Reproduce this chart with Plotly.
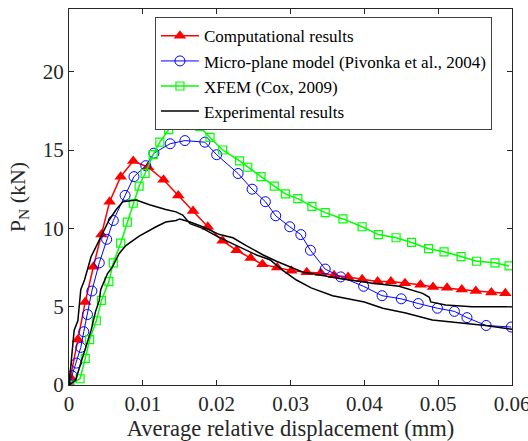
import plotly.graph_objects as go

# Computational results
comp_x = [0, .0002, .0012, .0022, .0033, .0044, .0055, .0070, .0087, .0107, .0128, .0148, .0168,
          .0188, .0208, .0227, .0246, .0262, .0282, .0301, .0322, .0341, .0359, .0378, .0397, .0418,
          .0436, .0455, .0476, .0493, .0512, .0532, .0551, .0572, .0591]
comp_y = [0, 0.5, 2.9, 5.3, 7.55, 9.6, 11.7, 13.3, 14.3, 13.9, 13.1, 12.1, 11.1, 10.1, 9.2, 8.6,
          8.1, 7.7, 7.5, 7.3, 7.2, 7.15, 7.0, 6.9, 6.75, 6.6, 6.6, 6.5, 6.4, 6.25, 6.2, 6.1, 6.0,
          5.9, 5.85]

# Micro-plane model (Pivonka et al., 2004)
micro_x = [0, .0004, .0010, .0016, .0020, .0025, .0031, .0041, .0051, .0060, .0076, .0088, .0104,
           .0115, .0137, .0157, .0184, .0200, .0229, .0248, .0266, .0280, .0299, .0314, .0327,
           .0347, .0368, .0399, .0424, .0450, .0473, .0499, .0522, .0539, .0565, .0599]
micro_y = [0, 0.6, 1.4, 2.4, 3.4, 4.5, 6.0, 7.8, 9.3, 10.5, 12.1, 13.3, 14.0, 14.8, 15.4, 15.6,
           15.5, 14.7, 13.5, 12.5, 11.7, 10.8, 10.1, 9.6, 8.6, 7.4, 6.9, 6.3, 5.7, 5.5, 5.2, 4.9,
           4.7, 4.3, 3.8, 3.7]

# XFEM (Cox, 2009)
xfem_x = [0, .0015, .0022, .0028, .0037, .0044, .0054, .0060, .0070, .0079, .0087, .0095, .0103,
          .0114, .0123, .0135, .0147, .0162, .0177, .0191, .0208, .0231, .0242, .0260, .0278,
          .0293, .0310, .0329, .0347, .0371, .0397, .0419, .0443, .0464, .0487, .0508, .0531,
          .0552, .0577, .0596]
xfem_y = [0, 0.4, 1.7, 2.9, 4.1, 5.4, 6.6, 7.8, 9.05, 10.4, 11.6, 12.7, 13.5, 14.7, 15.5, 16.3,
          17.1, 17.0, 16.5, 15.8, 15.0, 14.3, 13.9, 13.3, 12.7, 12.2, 11.9, 11.4, 11.0, 10.6,
          10.1, 9.6, 9.4, 9.1, 8.7, 8.5, 8.2, 7.9, 7.8, 7.6]

# Experimental results (two specimens)
expA_x = [0, .0003, .0005, .0007, .0012, .0014, .0016, .0021, .0027, .0030, .0041, .0054, .0064,
          .0073, .0091, .0109, .0131, .0145, .0154, .0164, .0181, .0200, .0227, .0254, .0272,
          .0290, .0308, .0321, .0328, .0357, .0400, .0425, .0456, .0492, .0524, .0564, .0600]
expA_y = [0, 1.4, 2.6, 3.5, 4.1, 5.2, 6.1, 6.7, 7.8, 8.2, 9.25, 10.5, 11.2, 11.7, 11.8, 11.5,
          11.2, 11.05, 10.85, 10.3, 10.0, 9.5, 8.9, 8.3, 8.0, 7.3, 6.7, 6.4, 6.2, 5.7, 5.3, 4.9,
          4.6, 4.15, 4.0, 3.8, 3.55]
expB_x = [0, .0009, .0016, .0023, .0030, .0036, .0041, .0043, .0048, .0052, .0059, .0068, .0077,
          .0095, .0118, .0131, .0145, .0150, .0164, .0181, .0204, .0222, .0240, .0263, .0281,
          .0299, .0317, .0330, .0366, .0411, .0447, .0479, .0488, .0490, .0510, .0546, .0600]
expB_y = [0, 0.3, 1.4, 2.4, 3.5, 4.7, 5.4, 6.1, 6.7, 7.1, 7.55, 8.4, 8.9, 9.5, 10.1, 10.4, 10.5,
          10.6, 10.4, 10.1, 9.6, 9.4, 8.9, 8.3, 7.9, 7.55, 7.2, 7.1, 6.8, 6.5, 6.3, 5.85, 5.6,
          5.3, 5.1, 5.0, 5.0]

x_range = [0, 0.06]
y_range = [0, 24]
x_ticks = [0, 0.01, 0.02, 0.03, 0.04, 0.05, 0.06]
x_tick_labels = ["0", "0.01", "0.02", "0.03", "0.04", "0.05", "0.06"]
y_ticks = [0, 5, 10, 15, 20]
y_tick_labels = ["0", "5", "10", "15", "20"]

FONT = "Liberation Serif, Times New Roman, serif"
TXT = "#262626"

fig = go.Figure()
fig.add_trace(go.Scatter(x=comp_x, y=comp_y, mode="lines+markers", name="Computational results",
                         line=dict(color="#ff0000", width=1.5),
                         marker=dict(symbol="triangle-up", size=11, color="#ff0000")))
fig.add_trace(go.Scatter(x=micro_x, y=micro_y, mode="lines+markers",
                         name="Micro-plane model (Pivonka et al., 2004)",
                         line=dict(color="#0000ff", width=1),
                         marker=dict(symbol="circle-open", size=10, color="#0000ff",
                                     line=dict(width=1))))
fig.add_trace(go.Scatter(x=xfem_x, y=xfem_y, mode="lines+markers", name="XFEM (Cox, 2009)",
                         line=dict(color="#00ff00", width=1.5),
                         marker=dict(symbol="square-open", size=8, color="#00ff00",
                                     line=dict(width=1.2))))
fig.add_trace(go.Scatter(x=expA_x, y=expA_y, mode="lines", name="Experimental results",
                         line=dict(color="#000000", width=1.5)))
fig.add_trace(go.Scatter(x=expB_x, y=expB_y, mode="lines", name="Experimental results",
                         showlegend=False, line=dict(color="#000000", width=1.5)))
# invisible helper trace so that the top/right (mirror) axes are drawn
fig.add_trace(go.Scatter(x=x_range, y=y_range, xaxis="x2", yaxis="y2", mode="lines",
                         line=dict(width=0, color="rgba(0,0,0,0)"), showlegend=False,
                         hoverinfo="skip"))

axis_common = dict(showline=True, linecolor=TXT, linewidth=1, ticks="inside",
                   ticklen=5, tickcolor=TXT, showgrid=False, zeroline=False, automargin=False,
                   tickfont=dict(family=FONT, size=21, color=TXT))

fig.update_layout(
    width=528, height=441,
    margin=dict(l=69, r=16, t=9, b=56),
    paper_bgcolor="white", plot_bgcolor="white",
    font=dict(family=FONT, color=TXT),
    xaxis=dict(range=x_range, tickvals=x_ticks, ticktext=x_tick_labels, mirror=True,
               ticklabeloverflow="allow",
               title=dict(text="Average relative displacement (mm)",
                          font=dict(family=FONT, size=22.5, color=TXT), standoff=3),
               **axis_common),
    yaxis=dict(range=y_range, tickvals=y_ticks, ticktext=y_tick_labels, mirror=True,
               title=dict(text="P<sub>N</sub> (kN)",
                          font=dict(family=FONT, size=22, color=TXT), standoff=11),
               **axis_common),
    xaxis2=dict(range=x_range, tickvals=x_ticks, overlaying="x", side="top",
                showticklabels=False, anchor="y", **axis_common),
    yaxis2=dict(range=y_range, tickvals=y_ticks, overlaying="y", side="right",
                showticklabels=False, anchor="x", **axis_common),
    legend=dict(x=0.194, y=0.978, xanchor="left", yanchor="top",
                bgcolor="white", bordercolor="#404040", borderwidth=1,
                font=dict(family=FONT, size=17, color="#000000"),
                tracegroupgap=0, itemsizing="trace", itemwidth=38),
    showlegend=True,
)

# remove the page's default body margin so the 528x441 figure fills the window exactly
fig.write_html("out.html", config={"displayModeBar": False},
               post_script="document.body.style.margin='0';document.body.style.overflow='hidden';")
